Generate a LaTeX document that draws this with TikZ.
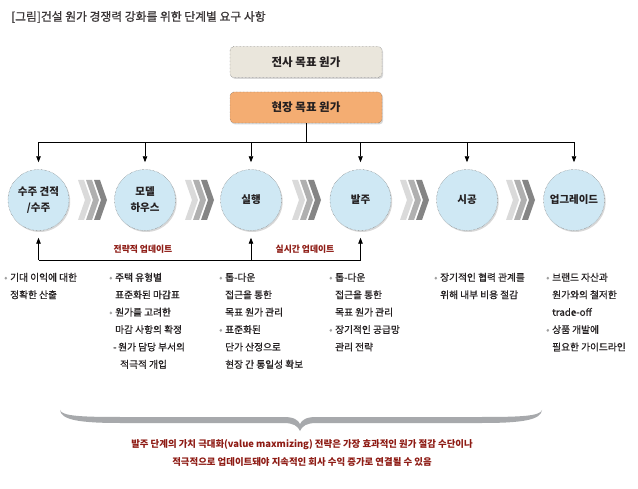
\documentclass[tikz,border=0pt]{standalone}
\usepackage{fontspec}
\setmainfont{Noto Sans CJK KR}
\newfontfamily\krmed{Noto Sans CJK KR}[FakeBold=0.8]
\usetikzlibrary{arrows.meta,shadows}
\definecolor{boxgray}{HTML}{EAE6DC}
\definecolor{boxorange}{HTML}{F4AD72}
\definecolor{circblue}{HTML}{CFE8F4}
\definecolor{darkred}{HTML}{8E1B14}
\definecolor{txt}{HTML}{231F20}
\definecolor{bulgray}{HTML}{A0A0A0}
\definecolor{bracegray}{HTML}{A7A9AC}
\definecolor{chA}{HTML}{DADADA}
\definecolor{chB}{HTML}{B0B0B0}
\definecolor{chC}{HTML}{858585}
\newcommand\bul{\makebox[6pt][l]{\textcolor{bulgray}{•}}}
\newcommand\ind{\hspace*{6pt}}
\newcommand\chevgroup[1]{%
  \foreach \k/\c in {0/chA,8/chB,16/chC}{%
    \fill[\c] ({#1-14+\k},180) -- ({#1-8+\k},180) -- ({#1-1+\k},200) -- ({#1-8+\k},220) -- ({#1-14+\k},220) -- ({#1-7+\k},200) -- cycle;}}
\begin{document}
\begin{tikzpicture}[x=1pt,y=-1pt,
  topbox/.style={draw=black!70, densely dotted, rounded corners=4pt, minimum width=152pt, minimum height=31pt,
    font=\fontsize{11.5}{13}\selectfont\bfseries, text=txt,
    drop shadow={opacity=0.3, shadow xshift=1.2pt, shadow yshift=-1.5pt}},
  stage/.style={circle, draw=black!60, densely dotted, fill=circblue, minimum size=61pt, inner sep=0pt,
    align=center, font=\fontsize{10.5}{16}\selectfont\bfseries, text=txt,
    drop shadow={opacity=0.3, shadow xshift=1.2pt, shadow yshift=-1.5pt}},
  conn/.style={draw=black, line width=0.8pt},
  arr/.style={conn, -{Triangle[length=6pt,width=4.5pt]}, shorten >=7pt},
  redlabel/.style={font=\fontsize{8.8}{10}\selectfont\bfseries, text=darkred},
  bullets/.style={anchor=base west, align=left, inner sep=0pt, font=\krmed\fontsize{9.7}{17.4}\selectfont, text=txt},
  bottomtext/.style={font=\fontsize{9.4}{17}\selectfont\bfseries, text=darkred, align=center, inner sep=0pt}]
\useasboundingbox (0,0) rectangle (638,489);
\fill[white] (0,0) rectangle (638,489);

% title
\node[anchor=west, inner sep=0pt, font=\krmed\fontsize{11.8}{13}\selectfont, text=txt!90] (title) at (11,17) {[그림]건설 원가 경쟁력 강화를 위한 단계별 요구 사항};

% top boxes
\node[topbox, fill=boxgray] (b1) at (306,62) {전사 목표 원가};
\node[topbox, fill=boxorange] (b2) at (306,107.5) {현장 목표 원가};

% stages
\node[stage] (s1) at (38.5,200) {수주 견적\\/수주};
\node[stage] (s2) at (145,200) {모델\\하우스};
\node[stage] (s3) at (251,200) {실행};
\node[stage] (s4) at (360.5,200) {발주};
\node[stage] (s5) at (467,200) {시공};
\node[stage] (s6) at (574,200) {업그레이드};

% chevrons
\chevgroup{92}
\chevgroup{199}
\chevgroup{306}
\chevgroup{414}
\chevgroup{520}

% top distribution connectors
\coordinate (tl) at (38.5,142.5);
\coordinate (tr) at (574,142.5);
\draw[conn] (b2.south) -- (b2.south |- tl);
\draw[conn] (tl) -- (tr);
\foreach \s in {s1,s2,s3,s4,s5,s6}{\draw[arr] (\s.north |- tl) -- (\s.north);}

% feedback connectors
\coordinate (bl) at (38.5,260);
\coordinate (br) at (360.5,260);
\draw[conn] (bl) -- (br);
\foreach \s in {s1,s3,s4}{\draw[arr] (\s.south |- bl) -- (\s.south);}
\node[redlabel] (l1) at (143,249) {전략적 업데이트};
\node[redlabel] (l2) at (305,249) {실시간 업데이트};

% bullet columns (base = baseline of last line)
\node[bullets] (c1) at (4,298.4) {\bul 기대 이익에 대한\\ \ind 정확한 산출};
\node[bullets] (c2) at (109,368) {\bul 주택 유형별\\ \ind 표준화된 마감표\\ \bul 원가를 고려한\\ \ind 마감 사항의 확정\\ \hspace*{4pt}-\,원가 담당 부서의\\ \ind\hspace*{5pt}적극적 개입};
\node[bullets] (c3) at (219,368) {\bul 톱-다운\\ \ind 접근을 통한\\ \ind 목표 원가 관리\\ \bul 표준화된\\ \ind 단가 산정으로\\ \ind 현장 간 통일성 확보};
\node[bullets] (c4) at (329,350.6) {\bul 톱-다운\\ \ind 접근을 통한\\ \ind 목표 원가 관리\\ \bul 장기적인 공급망\\ \ind 관리 전략};
\node[bullets] (c5) at (434,298.4) {\bul 장기적인 협력 관계를\\ \ind 위해 내부 비용 절감};
\node[bullets] (c6) at (546,350.6) {\bul 브랜드 자산과\\ \ind 원가와의 철저한\\ \ind trade-off\\ \bul 상품 개발에\\ \ind 필요한 가이드라인};

% brace
\fill[bracegray] (60,410) .. controls (62,416) and (80,417) .. (120,417) -- (284,417)
  .. controls (294,417) and (298,420) .. (300,424) .. controls (302,420) and (306,417) .. (316,417)
  -- (482,417) .. controls (522,417) and (540,416) .. (542,410)
  .. controls (541,420) and (522,423) .. (482,423) -- (316,423)
  .. controls (307,423) and (302,426) .. (300,431) .. controls (298,426) and (293,423) .. (284,423)
  -- (120,423) .. controls (80,423) and (61,420) .. (60,410) -- cycle;

% bottom text
\node[bottomtext] (t1) at (302,445) {발주 단계의 가치 극대화(value maxmizing) 전략은 가장 효과적인 원가 절감 수단이나};
\node[bottomtext] (t2) at (302,462) {적극적으로 업데이트돼야 지속적인 회사 수익 증가로 연결될 수 있음};
\end{tikzpicture}
\end{document}
